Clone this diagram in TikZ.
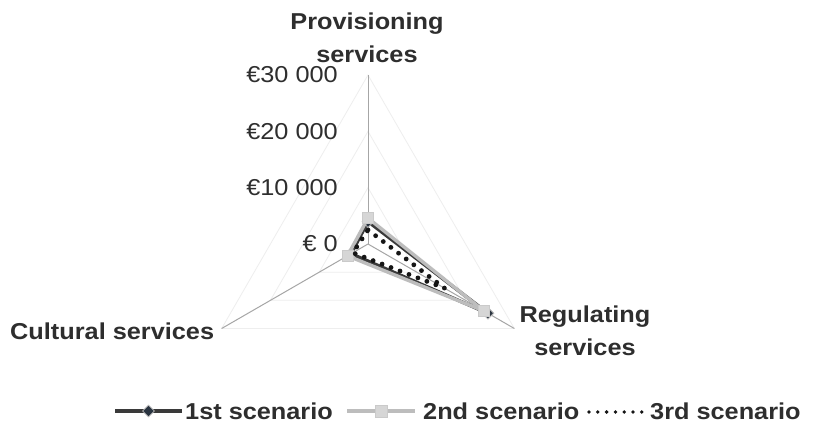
\documentclass[tikz,border=0pt]{standalone}
\usepackage{fontspec}
\setmainfont{Liberation Sans}[FakeStretch=1.1]
\usetikzlibrary{shapes.geometric}
\definecolor{txt}{HTML}{2E2E2E}
\definecolor{axisc}{HTML}{A6A6A6}
\definecolor{gridc}{HTML}{EEEEEE}
\definecolor{sone}{HTML}{3A3A3A}
\definecolor{stwo}{HTML}{BDBDBD}
\definecolor{sqfill}{HTML}{D6D6D6}
\definecolor{dmfill}{HTML}{2A3440}
\definecolor{sthree}{HTML}{151515}
\tikzset{
  catlab/.style={font=\bfseries\fontsize{23}{33}\selectfont, text=txt, inner sep=0pt, align=center},
  ticklab/.style={font=\fontsize{23}{28}\selectfont, text=txt, inner sep=0pt, anchor=east},
  leglab/.style={font=\bfseries\fontsize{23}{28}\selectfont, text=txt, inner sep=0pt, anchor=base west},
  gridline/.style={draw=gridc, line width=0.8pt},
  axisline/.style={draw=axisc, line width=1pt},
  serone/.style={draw=sone, line width=3.4pt, line join=round},
  sertwo/.style={draw=stwo, line width=3.4pt, line join=round},
  serthree/.style={draw=sthree, line width=4.8pt, line cap=round, dash pattern=on 0pt off 9.6pt},
  sqmark/.style={rectangle, fill=sqfill, draw=stwo!80, line width=0.5pt, minimum size=11pt, inner sep=0pt},
  dmmark/.style={diamond, fill=dmfill, draw=gray!55, line width=0.8pt, minimum size=12pt, inner sep=0pt},
}
\begin{document}
\begin{tikzpicture}[x=1pt,y=-1pt]
\useasboundingbox (0,0) rectangle (819,423);
\fill[white] (0,0) rectangle (819,423);
\coordinate (O) at (368,244);
\begin{scope}[shift={(O)}]
  % grid triangles
  \foreach \r in {56.33,112.67,169} {
    \draw[gridline] (90:\r pt) -- (-30:\r pt) -- (210:\r pt) -- cycle;
  }
  % axis ends
  \coordinate (tP) at (90:169pt);
  \coordinate (tR) at (-30:169pt);
  \coordinate (tC) at (210:169pt);
  % data points
  \coordinate (p1) at (90:22.5pt);
  \coordinate (r1) at (-30:138.5pt);
  \coordinate (c1) at (210:19.5pt);
  \coordinate (p2) at (90:25.9pt);
  \coordinate (r2) at (-30:134.1pt);
  \coordinate (c2) at (210:23.7pt);
  \coordinate (p3) at (90:14.1pt);
  \coordinate (r3) at (-30:88.4pt);
  \coordinate (c3) at (210:17.5pt);
\end{scope}
\draw[axisline] (O) -- (tP);
\draw[axisline] (O) -- (tR);
\draw[axisline] (O) -- (tC);

% series 1
\draw[serone] (p1) -- (r1) -- (c1) -- cycle;
\node[dmmark] (d1p) at (p1) {};
\node[dmmark] (d1r) at (r1) {};
\node[dmmark] (d1c) at (c1) {};
% series 2
\draw[sertwo] (p2) -- (r2) -- (c2) -- cycle;
\node[sqmark] (s2p) at (p2) {};
\node[sqmark] (s2r) at (r2) {};
\node[sqmark] (s2c) at (c2) {};
% series 3
\draw[serthree] (p3) -- (r3) -- (c3) -- cycle;

% category labels
\node[catlab] (prov) at (367,38) {Provisioning\\services};
\node[catlab] (regu) at (585,331) {Regulating\\services};
\node[catlab, anchor=west] (cult) at (10,331.5) {Cultural services};

% tick labels
\node[ticklab] (t30) at (338,75) {€30 000};
\node[ticklab] (t20) at (338,131.3) {€20 000};
\node[ticklab] (t10) at (338,187.7) {€10 000};
\node[ticklab] (t0) at (338,244) {€ 0};

% legend
\coordinate (l1a) at (115,411);
\coordinate (l1b) at (182,411);
\draw[draw=sone, line width=4pt] (l1a) -- (l1b);
\node[dmmark] (l1m) at (148.5,411) {};
\node[leglab] (l1t) at (185,419) {1st scenario};
\coordinate (l2a) at (347,411);
\coordinate (l2b) at (415,411);
\draw[draw=stwo, line width=3.5pt] (l2a) -- (l2b);
\node[sqmark, minimum size=12pt] (l2m) at (381,411) {};
\node[leglab] (l2t) at (423,419) {2nd scenario};
\coordinate (l3a) at (589,412);
\coordinate (l3b) at (642,412);
\draw[draw=sthree, line width=3.8pt, line cap=round, dash pattern=on 0pt off 8.8pt] (l3a) -- (l3b);
\node[leglab] (l3t) at (650,419) {3rd scenario};
\end{tikzpicture}
\end{document}
